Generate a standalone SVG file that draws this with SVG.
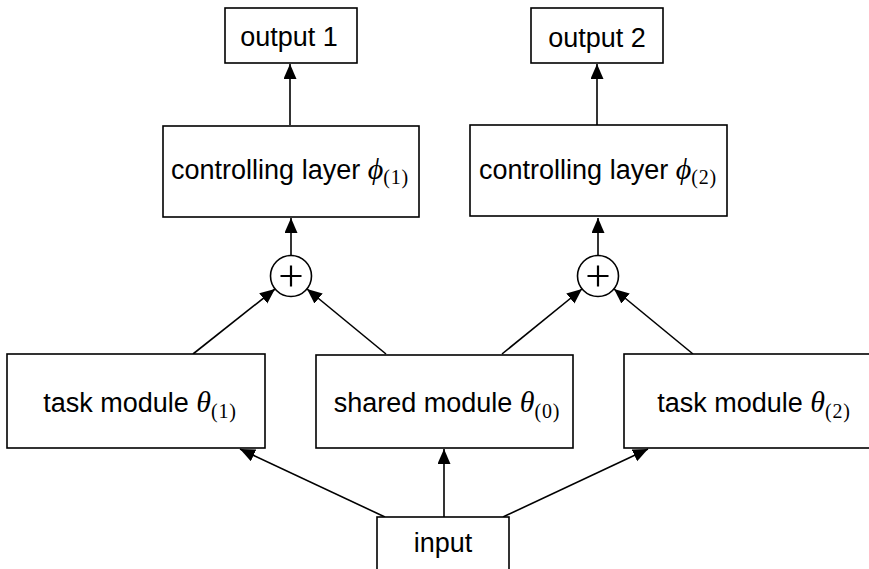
<svg xmlns="http://www.w3.org/2000/svg" width="869" height="569" viewBox="0 0 869 569">
  <style>
    .box { fill: #fff; stroke: #000; stroke-width: 1.6; }
    .sum { fill: #fff; stroke: #000; stroke-width: 1.6; }
    .plus { stroke: #000; stroke-width: 2.2; fill: none; }
    .lbl { font-family: "Liberation Sans", Arial, Helvetica, sans-serif; font-size: 27px; fill: #000; }
    .m { font-family: "Liberation Serif", "DejaVu Serif", serif; font-style: italic; font-size: 30px; }
    .sub { font-family: "Liberation Serif", "DejaVu Serif", serif; font-style: normal; font-size: 20px; letter-spacing: 0.8px; }
    .edge { stroke: #000; stroke-width: 1.6; fill: none; marker-end: url(#arrow); }
  </style>
  <defs>
    <marker id="arrow" markerUnits="userSpaceOnUse" markerWidth="16" markerHeight="14" refX="15" refY="6.5" orient="auto">
      <path d="M0,0 L15,6.5 L0,13 z" fill="#000"/>
    </marker>
  </defs>

  <rect width="869" height="569" fill="#fff"/>

  <g id="connectors">
    <line class="edge" x1="385" y1="517" x2="240" y2="449"/>
    <line class="edge" x1="444" y1="517" x2="444" y2="449"/>
    <line class="edge" x1="503" y1="517" x2="648" y2="449"/>
    <line class="edge" x1="193" y1="354" x2="275" y2="289"/>
    <line class="edge" x1="386" y1="354" x2="307" y2="289"/>
    <line class="edge" x1="502" y1="354" x2="582" y2="289"/>
    <line class="edge" x1="693" y1="354" x2="614" y2="289"/>
    <line class="edge" x1="291" y1="255" x2="291" y2="218"/>
    <line class="edge" x1="598" y1="255" x2="598" y2="218"/>
    <line class="edge" x1="290" y1="125" x2="290" y2="64"/>
    <line class="edge" x1="597" y1="125" x2="597" y2="64"/>
  </g>

  <g id="output1">
    <rect class="box" x="225" y="8" width="132" height="55"/>
    <text class="lbl" x="289" y="46" text-anchor="middle">output 1</text>
  </g>
  <g id="output2">
    <rect class="box" x="531" y="8" width="132" height="55"/>
    <text class="lbl" x="597" y="47" text-anchor="middle">output 2</text>
  </g>

  <g id="control1">
    <rect class="box" x="163" y="126" width="256" height="91"/>
    <text class="lbl" x="290" y="179" text-anchor="middle">controlling layer <tspan class="m">ϕ</tspan><tspan class="sub" dy="5">(1)</tspan></text>
  </g>
  <g id="control2">
    <rect class="box" x="470" y="125" width="257" height="91"/>
    <text class="lbl" x="598" y="179" text-anchor="middle">controlling layer <tspan class="m">ϕ</tspan><tspan class="sub" dy="5">(2)</tspan></text>
  </g>

  <g id="sum1">
    <circle class="sum" cx="291" cy="276" r="20.5"/>
    <path class="plus" d="M280.5,276 H301.5 M291,265.5 V286.5"/>
  </g>
  <g id="sum2">
    <circle class="sum" cx="598" cy="276" r="20.5"/>
    <path class="plus" d="M587.5,276 H608.5 M598,265.5 V286.5"/>
  </g>

  <g id="task1">
    <rect class="box" x="7" y="354" width="258" height="94"/>
    <text class="lbl" x="140" y="412" text-anchor="middle">task module <tspan class="m">θ</tspan><tspan class="sub" dy="6">(1)</tspan></text>
  </g>
  <g id="shared">
    <rect class="box" x="316" y="355" width="257" height="93"/>
    <text class="lbl" x="447" y="412" text-anchor="middle">shared module <tspan class="m">θ</tspan><tspan class="sub" dy="6">(0)</tspan></text>
  </g>
  <g id="task2">
    <rect class="box" x="624" y="354" width="258" height="94"/>
    <text class="lbl" x="754" y="412" text-anchor="middle">task module <tspan class="m">θ</tspan><tspan class="sub" dy="6">(2)</tspan></text>
  </g>

  <g id="input">
    <rect class="box" x="377" y="517" width="132" height="60"/>
    <text class="lbl" x="443" y="552" text-anchor="middle">input</text>
  </g>
</svg>
